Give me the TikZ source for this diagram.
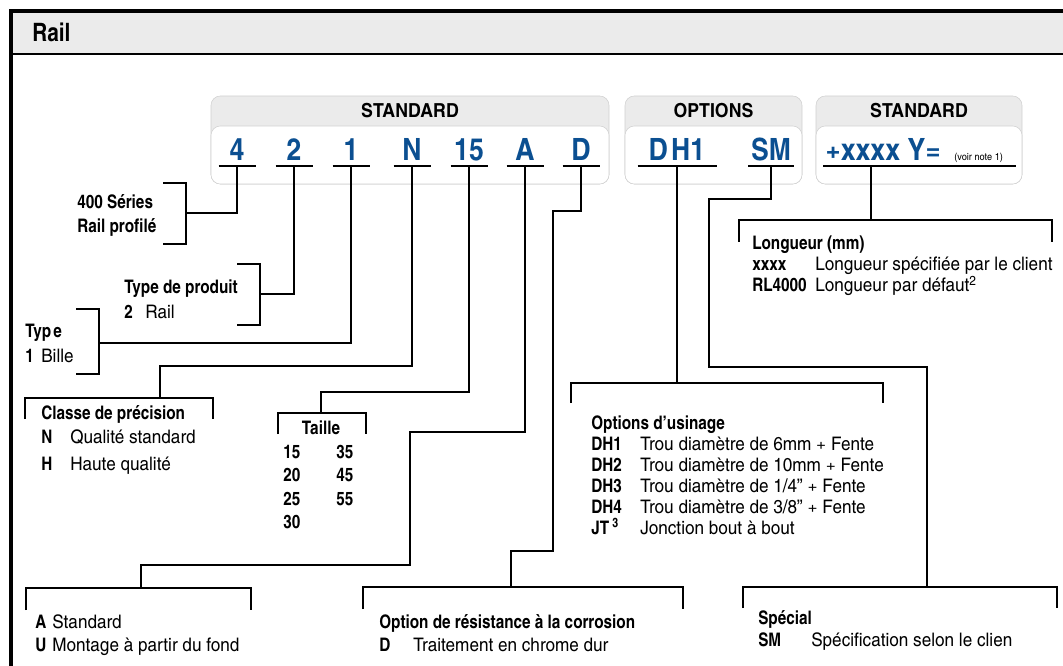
\documentclass[tikz,border=0pt]{standalone}
\usepackage{fontspec}
\setmainfont{texgyreheroscn}[Extension=.otf,UprightFont=*-regular,BoldFont=*-bold,ItalicFont=*-italic,BoldItalicFont=*-bolditalic,UprightFeatures={FakeStretch=1.12}]
\newfontfamily\boxfont{texgyreheroscn-bold}[Extension=.otf,FakeStretch=1.12]
\newfontfamily\codefont{texgyreheroscn-bold}[Extension=.otf,FakeStretch=1.06]
\definecolor{codeblue}{RGB}{11,79,145}
\definecolor{hdgray}{RGB}{235,235,235}
\definecolor{boxline}{RGB}{208,208,208}
\tikzset{
  txt/.style={anchor=base west,inner sep=0pt,font=\fontsize{14}{16}\selectfont},
  hd/.style={txt,font=\fontsize{14}{16}\selectfont\bfseries},
  code/.style={anchor=base,inner sep=0pt,text=codeblue,font=\fontsize{23}{26}\codefont},
  link/.style={line width=0.9pt},
  brk/.style={line width=0.8pt},
}
\begin{document}
\begin{tikzpicture}[x=0.75pt,y=-0.75pt]
\clip (0,0) rectangle (1063,666);
\fill[hdgray] (11,11) rectangle (1080,54);
\draw[line width=0.9pt] (11,54) -- (1080,54);
\draw[line width=2.5pt] (11,700) -- (11,11) -- (1080,11);
\node[hd,font=\fontsize{19}{22}\selectfont\bfseries] (title) at (32,42) {Rail};
\foreach \xa/\xb/\lab/\nm in {211/609/STANDARD/std,625/802/OPTIONS/opt,816/1022/STANDARD/len}{
  \draw[boxline,fill=hdgray,rounded corners=7pt] (\xa,96) rectangle (\xb,184);
  \draw[boxline,fill=white,rounded corners=7pt] (\xa,126) rectangle (\xb,184);
  \node[anchor=base,inner sep=0pt,font=\fontsize{14.5}{16}\boxfont] (\nm) at ({(\xa+\xb)/2},118) {\lab};
}
\foreach \x/\w/\t/\nm in {237/37/4/c4,294/37/2/c2,351/37/1/c1,412/37/N/cN,469/37/15/c15,525/37/A/cA,581/37/D/cD,677/79/D\kern2.5pt H1/cDH,771/46/SM/cSM}{
  \node[code] (\nm) at (\x,161) {\t};
  \draw[line width=1.4pt] (\x-\w/2,166) -- (\x+\w/2,166);
  \coordinate (\nm-u) at (\x,166);
}
\node[code,anchor=base west] (cLen) at (825,161) {+xxxx Y=};
\node[anchor=base west,inner sep=0pt,font=\fontsize{7.5}{8}\selectfont] (note) at (954,161) {(voir note 1)};
\draw[line width=1.4pt] (823,166) -- (1016,166);
\coordinate (cLen-u) at (871,166);
\foreach \xb/\ya/\yb in {186/183/244,260/264/325,99/309/374}{\draw[brk] (\xb-23,\ya) -| (\xb,\yb) -- ++(-23,0);}
\foreach \xa/\xb/\y/\yb in {25/213/398/419,278/366/413/434,26/251/588/610,363/683/587/609,571/883/383/403,743/1057/587/608,739/1052/220/242}{\draw[brk] (\xa,\yb) |- (\xb,\y) -- (\xb,\yb);}
\coordinate (k400) at (186,213);
\coordinate (kprod) at (260,294);
\coordinate (ktype) at (99,343);
\coordinate (kcls) at (160,398);
\coordinate (ktai) at (321,413);
\coordinate (kmnt) at (141,588);
\coordinate (kcor) at (511,587);
\coordinate (kusi) at (677,383);
\coordinate (kspe) at (927,587);
\coordinate (klen) at (871,220);
\draw[link] (c4-u) |- (k400);
\draw[link] (c2-u) |- (kprod);
\draw[link] (c1-u) |- (ktype);
\draw[link] (cN-u) -- ++(0,200) -| (kcls);
\draw[link] (c15-u) -- ++(0,226) -| (ktai);
\draw[link] (cA-u) -- ++(0,266) -| ++(-115,133) -| (kmnt);
\draw[link] (cD-u) -- ++(0,45) -| ++(-28,340) -| (kcor);
\draw[link] (cDH-u) -- (kusi);
\draw[link] (cSM-u) -- ++(0,33) -| ++(-62,168) -| (kspe);
\draw[link] (cLen-u) -- (klen);
\node[hd] (ser1) at (77,209) {400 Séries};
\node[hd] (ser2) at (77,233) {Rail profilé};
\node[hd] (prod) at (124,294) {Type de produit};
\node[hd] (prod-k) at (124,319) {2};
\node[txt] (prod-d) at (145,319) {Rail};
\node[hd] (typ) at (25,338) {Typ\kern1.5pt e};
\node[hd] (typ-k) at (25,363) {1};
\node[txt] (typ-d) at (41,363) {Bille};
\node[hd] (cls) at (41,419) {Classe de précision};
\foreach \k/\d/\y [count=\i] in {N/Qualité standard/443,H/Haute qualité/470}{
  \node[hd] (cls-k\i) at (41,\y) {\k};
  \node[txt] (cls-d\i) at (70,\y) {\d};
}
\node[hd,anchor=base] (tai) at (321,434) {Taille};
\foreach \a/\b/\y [count=\i] in {15/35/458,20/45/481,25/55/505,30//528}{
  \node[hd] (tai-a\i) at (283,\y) {\a};
  \node[hd] (tai-b\i) at (336,\y) {\b};
}
\foreach \k/\d/\y [count=\i] in {A/Standard/628,U/Montage à partir du fond/651}{
  \node[hd] (mnt-k\i) at (35,\y) {\k};
  \node[txt] (mnt-d\i) at (52,\y) {\d};
}
\node[hd] (cor) at (379,628) {Option de résistance à la corrosion};
\node[hd] (cor-k) at (379,651) {D};
\node[txt] (cor-d) at (413,651) {Traitement en chrome dur};
\node[hd] (usi) at (591,429) {Options d'usinage};
\foreach \k/\d/\y [count=\i] in {DH1/Trou diamètre de 6mm + Fente/450,DH2/Trou diamètre de 10mm + Fente/471,DH3/{Trou diamètre de 1/4” + Fente}/492,DH4/{Trou diamètre de 3/8” + Fente}/513,JT\,\textsuperscript{3}/Jonction bout à bout/534}{
  \node[hd] (usi-k\i) at (591,\y) {\k};
  \node[txt] (usi-d\i) at (640,\y) {\d};
}
\node[hd] (spe) at (758,624) {Spécial};
\node[hd] (spe-k) at (758,646) {SM};
\node[txt] (spe-d) at (811,646) {Spécification selon le clien};
\node[hd] (lon) at (752,250) {Longueur (mm)};
\foreach \k/\d/\y [count=\i] in {xxxx/Longueur spécifiée par le client/271,RL4000/Longueur par défaut\textsuperscript{2}/292}{
  \node[hd] (lon-k\i) at (752,\y) {\k};
  \node[txt] (lon-d\i) at (815,\y) {\d};
}
\end{tikzpicture}
\end{document}
